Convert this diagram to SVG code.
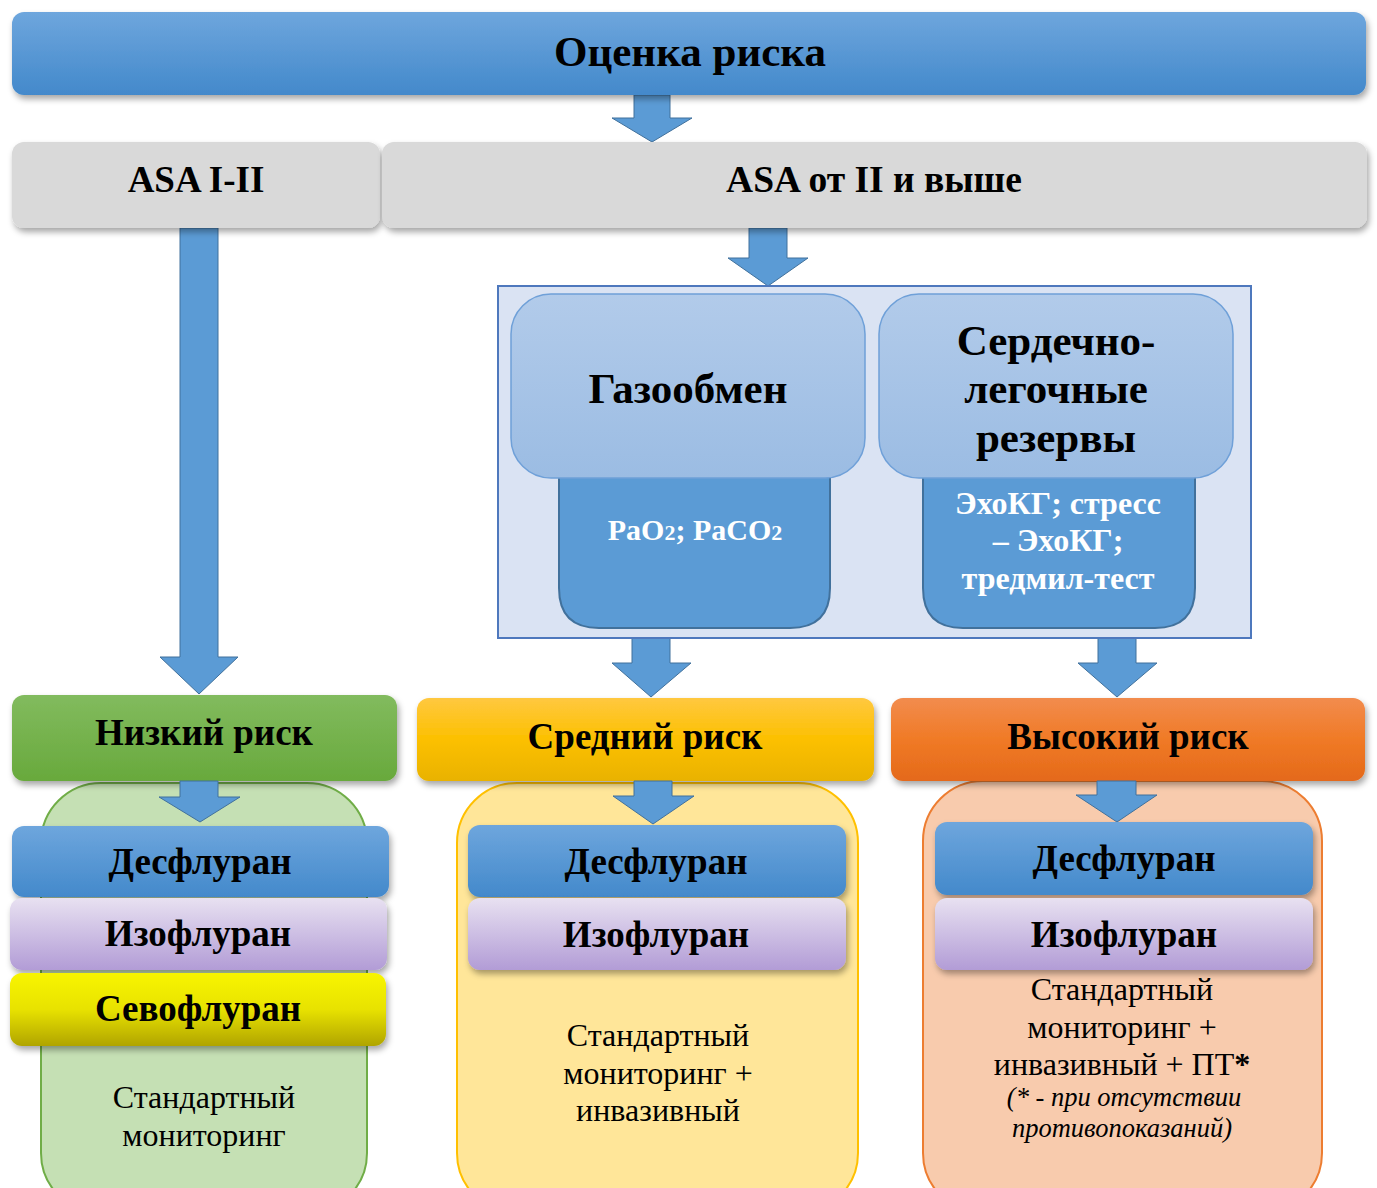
<svg xmlns="http://www.w3.org/2000/svg" width="1377" height="1188" viewBox="0 0 1377 1188">
<defs>
<linearGradient id="gBlue" x1="0" y1="0" x2="0" y2="1"><stop offset="0" stop-color="#6ea6dd"/><stop offset="1" stop-color="#4389cb"/></linearGradient>
<linearGradient id="gLight" x1="0" y1="0" x2="0" y2="1"><stop offset="0" stop-color="#b2cbea"/><stop offset="1" stop-color="#9bbce3"/></linearGradient>
<linearGradient id="gGreen" x1="0" y1="0" x2="0" y2="1"><stop offset="0" stop-color="#82bb5e"/><stop offset="1" stop-color="#68a93c"/></linearGradient>
<linearGradient id="gYel" x1="0" y1="0" x2="0" y2="1"><stop offset="0" stop-color="#ffc840"/><stop offset="0.5" stop-color="#fcc000"/><stop offset="1" stop-color="#e9b200"/></linearGradient>
<linearGradient id="gOr" x1="0" y1="0" x2="0" y2="1"><stop offset="0" stop-color="#f28c4e"/><stop offset="0.5" stop-color="#f07a26"/><stop offset="1" stop-color="#e4691a"/></linearGradient>
<linearGradient id="gPur" x1="0" y1="0" x2="0" y2="1"><stop offset="0" stop-color="#e8e1f1"/><stop offset="1" stop-color="#b29cd6"/></linearGradient>
<linearGradient id="gSevo" x1="0" y1="0" x2="0" y2="1"><stop offset="0" stop-color="#f8f500"/><stop offset="0.5" stop-color="#e8e200"/><stop offset="1" stop-color="#b0a400"/></linearGradient>
<filter id="sh" x="-5%" y="-20%" width="110%" height="150%"><feDropShadow dx="2" dy="4" stdDeviation="3" flood-color="#000" flood-opacity="0.35"/></filter>
</defs>
<style>
.b{font-family:"Liberation Serif","Times New Roman",serif;font-weight:bold;text-anchor:middle;fill:#000}
.r{font-family:"Liberation Serif","Times New Roman",serif;text-anchor:middle;fill:#000}
.w{font-family:"Liberation Serif","Times New Roman",serif;font-weight:bold;text-anchor:middle;fill:#fff}
.arr{fill:#5b9bd5;stroke:#41719c;stroke-width:1}
</style>

<g id="connectors">
<path class="arr" d="M634,95 H670 V118 H692 L652,142 L612,118 H634 Z"/>
<path class="arr" d="M180,228 H218 V657 H238 L199,694 L160,657 H180 Z"/>
<path class="arr" d="M749,228 H787 V258 H808 L768,286 L728,258 H749 Z"/>
<path class="arr" d="M632,638 H670 V663 H691 L651,697 L612,663 H632 Z"/>
<path class="arr" d="M1098,638 H1136 V663 H1157 L1117,697 L1078,663 H1098 Z"/>
</g>

<g id="top">
<rect x="12" y="12" width="1354" height="83" rx="12" fill="url(#gBlue)" filter="url(#sh)"/>
<text class="b" x="690" y="66" font-size="43">Оценка риска</text>
</g>

<g id="asa12">
<rect x="12" y="142" width="368" height="86" rx="12" fill="#d9d9d9" filter="url(#sh)"/>
<text class="b" x="196" y="192" font-size="37">ASA I-II</text>
</g>
<g id="asa2plus">
<rect x="382" y="142" width="985" height="86" rx="12" fill="#d9d9d9" filter="url(#sh)"/>
<text class="b" x="874" y="192" font-size="37.5">ASA от II и выше</text>
</g>

<g id="container">
<rect x="498" y="286" width="753" height="352" fill="#dae3f3" stroke="#4e78bd" stroke-width="2"/>
</g>

<g id="gas">
<path d="M559,460 H830 V588 Q830,628 790,628 H599 Q559,628 559,588 Z" fill="#5b9bd5" stroke="#41719c" stroke-width="2"/>
<rect x="511" y="294" width="354" height="184" rx="40" fill="url(#gLight)" stroke="#6fa0d8" stroke-width="1.5"/>
<text class="b" x="688" y="403" font-size="43">Газообмен</text>
<text class="w" x="695" y="540" font-size="30">PaO<tspan font-size="22">2</tspan>; PaCO<tspan font-size="22">2</tspan></text>
</g>

<g id="cardio">
<path d="M923,460 H1195 V588 Q1195,628 1155,628 H963 Q923,628 923,588 Z" fill="#5b9bd5" stroke="#41719c" stroke-width="2"/>
<rect x="879" y="294" width="354" height="184" rx="40" fill="url(#gLight)" stroke="#6fa0d8" stroke-width="1.5"/>
<text class="b" x="1056" y="355" font-size="43">Сердечно-</text>
<text class="b" x="1056" y="403" font-size="43">легочные</text>
<text class="b" x="1056" y="452" font-size="43">резервы</text>
<text class="w" x="1058" y="514" font-size="32">ЭхоКГ; стресс</text>
<text class="w" x="1058" y="551" font-size="32">– ЭхоКГ;</text>
<text class="w" x="1058" y="589" font-size="32">тредмил-тест</text>
</g>

<g id="low">
<rect x="41" y="783" width="326" height="430" rx="60" fill="#c5e0b4" stroke="#70ad47" stroke-width="2"/>
<rect x="12" y="695" width="385" height="86" rx="12" fill="url(#gGreen)" filter="url(#sh)"/>
<text class="b" x="204" y="745" font-size="37">Низкий риск</text>
<path class="arr" d="M180,781 H218 V797 H240 L200,822 L159,797 H180 Z"/>
<rect x="12" y="826" width="377" height="71" rx="12" fill="url(#gBlue)" filter="url(#sh)"/>
<text class="b" x="200" y="874" font-size="37">Десфлуран</text>
<rect x="10" y="898" width="377" height="72" rx="12" fill="url(#gPur)" filter="url(#sh)"/>
<text class="b" x="198" y="946" font-size="37">Изофлуран</text>
<rect x="10" y="973" width="376" height="73" rx="12" fill="url(#gSevo)" filter="url(#sh)"/>
<text class="b" x="198" y="1021" font-size="37">Севофлуран</text>
<text class="r" x="204" y="1108" font-size="32">Стандартный</text>
<text class="r" x="204" y="1146" font-size="32">мониторинг</text>
</g>

<g id="mid">
<rect x="457" y="783" width="401" height="430" rx="60" fill="#ffe699" stroke="#ffc000" stroke-width="2"/>
<rect x="417" y="698" width="457" height="83" rx="12" fill="url(#gYel)" filter="url(#sh)"/>
<text class="b" x="645" y="749" font-size="37">Средний риск</text>
<path class="arr" d="M634,781 H672 V796 H694 L653,824 L613,796 H634 Z"/>
<rect x="468" y="825" width="378" height="72" rx="12" fill="url(#gBlue)" filter="url(#sh)"/>
<text class="b" x="656" y="874" font-size="37">Десфлуран</text>
<rect x="468" y="898" width="378" height="72" rx="12" fill="url(#gPur)" filter="url(#sh)"/>
<text class="b" x="656" y="947" font-size="37">Изофлуран</text>
<text class="r" x="658" y="1046" font-size="32">Стандартный</text>
<text class="r" x="658" y="1084" font-size="32">мониторинг +</text>
<text class="r" x="658" y="1121" font-size="32">инвазивный</text>
</g>

<g id="high">
<rect x="923" y="781" width="399" height="432" rx="60" fill="#f8cbad" stroke="#ed7d31" stroke-width="2"/>
<rect x="891" y="698" width="474" height="83" rx="12" fill="url(#gOr)" filter="url(#sh)"/>
<text class="b" x="1128" y="749" font-size="37">Высокий риск</text>
<path class="arr" d="M1097,781 H1136 V795 H1157 L1117,822 L1076,795 H1097 Z"/>
<rect x="935" y="822" width="378" height="73" rx="12" fill="url(#gBlue)" filter="url(#sh)"/>
<text class="b" x="1124" y="871" font-size="37">Десфлуран</text>
<rect x="935" y="898" width="378" height="72" rx="12" fill="url(#gPur)" filter="url(#sh)"/>
<text class="b" x="1124" y="947" font-size="37">Изофлуран</text>
<text class="r" x="1122" y="1000" font-size="32">Стандартный</text>
<text class="r" x="1122" y="1038" font-size="32">мониторинг +</text>
<text class="r" x="1122" y="1075" font-size="32">инвазивный + ПТ<tspan font-weight="bold">*</tspan></text>
<text class="r" x="1124" y="1106" font-size="26.5" font-style="italic">(* - при отсутствии</text>
<text class="r" x="1122" y="1137" font-size="26.5" font-style="italic">противопоказаний)</text>
</g>
</svg>
